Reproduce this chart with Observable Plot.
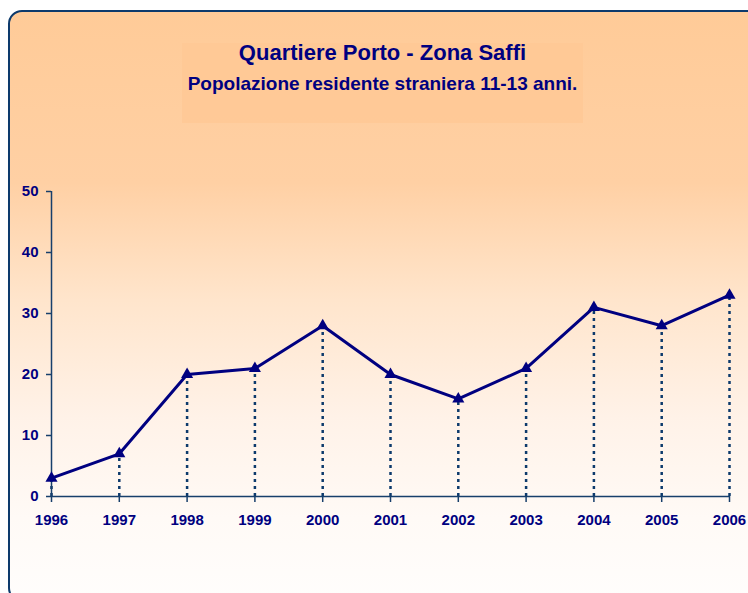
<!DOCTYPE html>
<html>
<head>
<meta charset="utf-8">
<script src="https://cdn.jsdelivr.net/npm/d3@7"></script>
<script src="https://cdn.jsdelivr.net/npm/@observablehq/plot@0.6"></script>
<style>
  html, body { margin: 0; padding: 0; background: #ffffff; width: 748px; height: 593px; overflow: hidden; }
  #frame {
    position: absolute; left: 8px; top: 10px; width: 800px; height: 592px;
    box-sizing: border-box; border: 2px solid #0d3a6c; border-radius: 14px;
    background: linear-gradient(to bottom, #ffcb98 0%, #ffd0a4 29%, #ffe5cc 49%, #fff2e8 69%, #fffaf6 86%, #fffdfc 100%);
  }
  #titlebox {
    position: absolute; left: 182px; top: 43px; width: 401px; height: 80px;
    background: #ffc895; opacity: 0.8;
  }
  .ttl { position: absolute; left: 132px; width: 501px; text-align: center;
    font-family: "Liberation Sans", Arial, sans-serif; font-weight: bold; color: #000080; white-space: nowrap; }
  #t1 { top: 40px; font-size: 22px; }
  #t2 { top: 73px; font-size: 19px; }
  #chart { position: absolute; left: 0; top: 0; }
</style>
</head>
<body>
<div id="frame"></div>
<div id="titlebox"></div>
<div class="ttl" id="t1">Quartiere Porto - Zona Saffi</div>
<div class="ttl" id="t2">Popolazione residente straniera 11-13 anni.</div>
<div id="chart"></div>
<script>
const years = [1996, 1997, 1998, 1999, 2000, 2001, 2002, 2003, 2004, 2005, 2006];
const values = [3, 7, 20, 21, 28, 20, 16, 21, 31, 28, 33];
const yTicks = [0, 10, 20, 30, 40, 50];

const data = years.map((year, i) => ({year, value: values[i]}));

const axisColor = "#173f6b";
const navy = "#000080";

const plot = Plot.plot({
  width: 748,
  height: 593,
  marginLeft: 51,
  marginRight: 19,
  marginTop: 191,
  marginBottom: 97,
  style: { background: "transparent", fontFamily: "'Liberation Sans', Arial, sans-serif", overflow: "visible" },
  x: { type: "linear", domain: [1996, 2006] },
  y: { domain: [0, 50] },
  marks: [
    Plot.ruleX(data, { x: "year", y1: 0, y2: "value", stroke: "#0d3a6c", strokeWidth: 2.5, strokeDasharray: "3,4" }),
    Plot.ruleX([1996], { stroke: axisColor, strokeWidth: 1.5 }),
    Plot.ruleY([0], { stroke: axisColor, strokeWidth: 1.5 }),
    Plot.axisY({ ticks: yTicks, tickSize: 5, tickPadding: 8, stroke: axisColor, strokeWidth: 1.5, fill: navy,
      fontSize: 15, fontWeight: "bold", label: null, tickFormat: d => String(d) }),
    Plot.axisX({ ticks: years, tickSize: 6, tickPadding: 12, stroke: axisColor, strokeWidth: 1.5, fill: navy,
      fontSize: 15, fontWeight: "bold", label: null, tickFormat: d => String(d) }),
    Plot.line(data, { x: "year", y: "value", stroke: navy, strokeWidth: 3 }),
    Plot.dot(data, { x: "year", y: "value", symbol: "triangle", r: 4.5, fill: navy, stroke: "none" })
  ]
});
document.getElementById("chart").appendChild(plot);
</script>
</body>
</html>
